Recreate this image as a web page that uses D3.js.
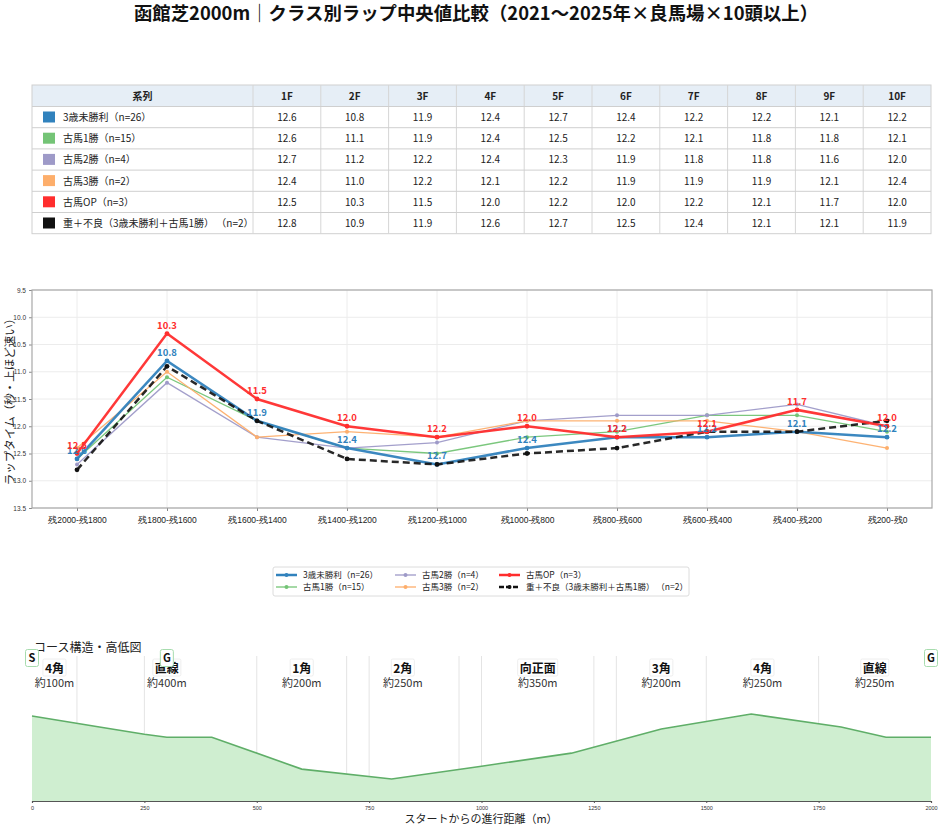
<!DOCTYPE html>
<html>
<head>
<meta charset="utf-8">
<script src="https://cdn.jsdelivr.net/npm/d3@7"></script>
<style>
  body { margin: 0; background: #fff; }
  svg { font-family: "Noto Sans CJK JP", "Noto Sans", sans-serif; }
</style>
</head>
<body>
<svg id="chart" width="942" height="829"></svg>
<script>
// ラップ区間（表の列と折れ線の横軸）
var furlongs = ["1F", "2F", "3F", "4F", "5F", "6F", "7F", "8F", "9F", "10F"];
var sections = ["残2000-残1800", "残1800-残1600", "残1600-残1400", "残1400-残1200", "残1200-残1000",
                "残1000-残800", "残800-残600", "残600-残400", "残400-残200", "残200-残0"];

// 系列名
var seriesNames = ["3歳未勝利（n=26）", "古馬1勝（n=15）", "古馬2勝（n=4）", "古馬3勝（n=2）",
                   "古馬OP（n=3）", "重＋不良（3歳未勝利＋古馬1勝） （n=2）"];

// 中央値ラップ
var maiden3 = [12.6, 10.8, 11.9, 12.4, 12.7, 12.4, 12.2, 12.2, 12.1, 12.2];
var win1    = [12.6, 11.1, 11.9, 12.4, 12.5, 12.2, 12.1, 11.8, 11.8, 12.1];
var win2    = [12.7, 11.2, 12.2, 12.4, 12.3, 11.9, 11.8, 11.8, 11.6, 12.0];
var win3    = [12.4, 11.0, 12.2, 12.1, 12.2, 11.9, 11.9, 11.9, 12.1, 12.4];
var openCls = [12.5, 10.3, 11.5, 12.0, 12.2, 12.0, 12.2, 12.1, 11.7, 12.0];
var heavy   = [12.8, 10.9, 11.9, 12.6, 12.7, 12.5, 12.4, 12.1, 12.1, 11.9];

var yTicks = [9.5, 10.0, 10.5, 11.0, 11.5, 12.0, 12.5, 13.0, 13.5];

// 高低図（距離m, 相対高低）
var profileDist = [0, 150, 250, 300, 400, 600, 800, 1000, 1200, 1400, 1600, 1800, 1900, 2000];
var profileElev = [2.93, 2.55, 2.3, 2.2, 2.2, 1.1, 0.76, 1.2, 1.65, 2.48, 3.0, 2.55, 2.2, 2.2];
var distTicks = [0, 250, 500, 750, 1000, 1250, 1500, 1750, 2000];

// コース区間
var segStart = [0, 100, 500, 700, 950, 1300, 1500, 1750];
var segEnd   = [100, 500, 700, 950, 1300, 1500, 1750, 2000];
var segName  = ["4角", "直線", "1角", "2角", "向正面", "3角", "4角", "直線"];
var segLen   = ["約100m", "約400m", "約200m", "約250m", "約350m", "約200m", "約250m", "約250m"];

// S/G 位置
var markDist  = [0, 300, 2000];
var markLabel = ["S", "G", "G"];

var allSeries = [maiden3, win1, win2, win3, openCls, heavy];
var colors = ["#3182bd", "#74c476", "#9e9ac8", "#fdae6b", "#ff2d2d", "#111111"];
var widths = [2.5, 1.3, 1.3, 1.3, 2.5, 2.5];

var svg = d3.select("#chart");

// タイトル
svg.append("text").attr("x", 476).attr("y", 20).attr("text-anchor", "middle")
  .attr("font-size", 18.4).attr("font-weight", "bold").attr("fill", "#111")
  .text("函館芝2000m｜クラス別ラップ中央値比較（2021～2025年×良馬場×10頭以上）");

// ---------- 表 ----------
var tableX = 32, tableY = 85, firstW = 221, colW = 67.8, headH = 21.5, rowH = 21.2;
var tbl = svg.append("g");
var tableW = firstW + colW * furlongs.length;
var tableH = headH + rowH * seriesNames.length;

tbl.append("rect").attr("x", tableX).attr("y", tableY).attr("width", tableW).attr("height", headH)
  .attr("fill", "#e6eef6");
tbl.append("rect").attr("x", tableX).attr("y", tableY).attr("width", tableW).attr("height", tableH)
  .attr("fill", "none").attr("stroke", "#d0d0d0");

var colX = function(i) { return tableX + firstW + colW * i; };

// 縦線
furlongs.forEach(function(f, i) {
  tbl.append("line").attr("x1", colX(i)).attr("x2", colX(i))
    .attr("y1", tableY).attr("y2", tableY + tableH).attr("stroke", "#d6d6d6");
});
// 横線
seriesNames.forEach(function(s, i) {
  var y = tableY + headH + rowH * i;
  tbl.append("line").attr("x1", tableX).attr("x2", tableX + tableW)
    .attr("y1", y).attr("y2", y).attr("stroke", "#cfcfcf");
});

tbl.append("text").attr("x", tableX + firstW / 2).attr("y", tableY + 14.5).attr("text-anchor", "middle")
  .attr("font-size", 10).attr("font-weight", "bold").attr("fill", "#222").text("系列");
furlongs.forEach(function(f, i) {
  tbl.append("text").attr("x", colX(i) + colW / 2).attr("y", tableY + 14.5).attr("text-anchor", "middle")
    .attr("font-size", 10).attr("font-weight", "bold").attr("fill", "#222").text(f);
});

seriesNames.forEach(function(name, r) {
  var y = tableY + headH + rowH * r;
  tbl.append("rect").attr("x", 43).attr("y", y + 5).attr("width", 12).attr("height", 11)
    .attr("fill", colors[r]);
  tbl.append("text").attr("x", 63).attr("y", y + 14.5).attr("font-size", 10).attr("fill", "#222").text(name);
  allSeries[r].forEach(function(v, i) {
    tbl.append("text").attr("x", colX(i) + colW / 2).attr("y", y + 14.5).attr("text-anchor", "middle")
      .attr("font-size", 10).attr("fill", "#222").text(v.toFixed(1));
  });
});

// ---------- 折れ線 ----------
var x = d3.scalePoint().domain(sections).range([32, 932]).padding(0.5);
var y = d3.scaleLinear().domain([9.5, 13.5]).range([290, 508]);

var plot = svg.append("g");
plot.append("g").selectAll("line").data(yTicks).join("line")
  .attr("x1", 32).attr("x2", 932).attr("y1", d => y(d)).attr("y2", d => y(d))
  .attr("stroke", "#ececec");
plot.append("g").selectAll("line").data(sections).join("line")
  .attr("x1", d => x(d)).attr("x2", d => x(d)).attr("y1", 290).attr("y2", 508)
  .attr("stroke", "#ececec");

var yAxis = plot.append("g").attr("transform", "translate(32,0)")
  .call(d3.axisLeft(y).tickValues(yTicks).tickFormat(d3.format(".1f")).tickSize(3));
yAxis.select(".domain").remove();
yAxis.selectAll("text").attr("font-size", 6.5).attr("fill", "#333");
yAxis.selectAll("line").attr("stroke", "#888");

var xAxis = plot.append("g").attr("transform", "translate(0,508)")
  .call(d3.axisBottom(x).tickSize(3));
xAxis.select(".domain").remove();
xAxis.selectAll("text").attr("font-size", 8.5).attr("fill", "#222").attr("dy", "1em");
xAxis.selectAll("line").attr("stroke", "#888");

plot.append("rect").attr("x", 32).attr("y", 290).attr("width", 900).attr("height", 218)
  .attr("fill", "none").attr("stroke", "#a8a8a8").attr("stroke-width", 1.2);

svg.append("text").attr("transform", "translate(14,399) rotate(-90)").attr("text-anchor", "middle")
  .attr("font-size", 11.5).attr("fill", "#222").text("ラップタイム（秒・上ほど速い）");

var line = d3.line().x((d, i) => x(sections[i])).y(d => y(d));
var drawOrder = [1, 2, 3, 0, 5, 4];
drawOrder.forEach(function(s) {
  plot.append("path").datum(allSeries[s]).attr("d", line).attr("fill", "none")
    .attr("stroke", colors[s]).attr("stroke-width", widths[s])
    .attr("stroke-dasharray", s === 5 ? "7,4" : null)
    .attr("stroke-opacity", s === 5 ? 0.9 : 0.95);
  plot.append("g").selectAll("circle").data(allSeries[s]).join("circle")
    .attr("cx", (d, i) => x(sections[i])).attr("cy", d => y(d))
    .attr("r", s === 0 || s === 4 || s === 5 ? 2.4 : 2).attr("fill", colors[s]);
});

// 値ラベル（3歳未勝利・古馬OP）
[0, 4].forEach(function(s) {
  plot.append("g").selectAll("text").data(allSeries[s]).join("text")
    .attr("x", (d, i) => x(sections[i])).attr("y", d => y(d) - 5)
    .attr("text-anchor", "middle").attr("font-size", 9.5).attr("font-weight", "bold")
    .attr("fill", colors[s]).text(d => d.toFixed(1));
});

// 凡例
var lg = svg.append("g");
lg.append("rect").attr("x", 273).attr("y", 567).attr("width", 416).attr("height", 29)
  .attr("rx", 2).attr("fill", "#fff").attr("stroke", "#dcdcdc");
var legX = [276, 395, 499];
var legY = [575, 587];
seriesNames.forEach(function(name, i) {
  var cx = legX[Math.floor(i / 2)], cy = legY[i % 2];
  lg.append("line").attr("x1", cx).attr("x2", cx + 21).attr("y1", cy).attr("y2", cy)
    .attr("stroke", colors[i]).attr("stroke-width", widths[i])
    .attr("stroke-dasharray", i === 5 ? "5,2" : null);
  lg.append("circle").attr("cx", cx + 10.5).attr("cy", cy).attr("r", 2).attr("fill", colors[i]);
  lg.append("text").attr("x", cx + 27).attr("y", cy + 3).attr("font-size", 8.5).attr("fill", "#222").text(name);
});

// ---------- 高低図 ----------
var px = d3.scaleLinear().domain([0, 2000]).range([32, 931]);
var py = d3.scaleLinear().domain([0, 5]).range([801, 656]);

svg.append("text").attr("x", 34).attr("y", 652).attr("font-size", 12).attr("fill", "#222").text("コース構造・高低図");

var prof = svg.append("g");
var guide = Array.from(new Set(segStart.slice(1).concat(distTicks.slice(1, -1))));
prof.selectAll("line.guide").data(guide).join("line")
  .attr("x1", d => px(d)).attr("x2", d => px(d)).attr("y1", 656).attr("y2", 801)
  .attr("stroke", "#e4e4e4");

var pts = profileDist.map((d, i) => [d, profileElev[i]]);
prof.append("path").datum(pts)
  .attr("d", d3.area().x(d => px(d[0])).y0(py(0)).y1(d => py(d[1])))
  .attr("fill", "#cfeed0");
prof.append("path").datum(pts)
  .attr("d", d3.line().x(d => px(d[0])).y(d => py(d[1])))
  .attr("fill", "none").attr("stroke", "#5fae68").attr("stroke-width", 1.6);

var pAxis = prof.append("g").attr("transform", "translate(0,801)")
  .call(d3.axisBottom(px).tickValues(distTicks).tickSize(2).tickFormat(d3.format("d")));
pAxis.select(".domain").attr("stroke", "#555").attr("stroke-width", 1.2);
pAxis.selectAll("text").attr("font-size", 5.5).attr("fill", "#333");
pAxis.selectAll("line").attr("stroke", "#555");

svg.append("text").attr("x", 481).attr("y", 823).attr("text-anchor", "middle")
  .attr("font-size", 11).attr("fill", "#222").text("スタートからの進行距離（m）");

var labelBoxes = prof.append("g");
var labelTexts = prof.append("g");
segName.forEach(function(n, i) {
  var cx = px((segStart[i] + segEnd[i]) / 2);
  var t = labelTexts.append("text").attr("x", cx).attr("y", 673).attr("text-anchor", "middle")
    .attr("font-size", 12).attr("font-weight", "bold").attr("fill", "#111").text(n);
  var bb = t.node().getBBox();
  labelBoxes.append("rect").attr("x", bb.x - 2).attr("y", bb.y)
    .attr("width", bb.width + 4).attr("height", bb.height).attr("fill", "#fff")
    .attr("stroke", "#eeeeee").attr("rx", 1.5);
  labelTexts.append("text").attr("x", cx).attr("y", 687).attr("text-anchor", "middle")
    .attr("font-size", 11).attr("fill", "#333").text(segLen[i]);
});

var marks = prof.append("g");
markDist.forEach(function(d, i) {
  var cx = px(d), cy = 658;
  marks.append("rect").attr("x", cx - 6.5).attr("y", cy - 8.5).attr("width", 13).attr("height", 17)
    .attr("rx", 2).attr("fill", "#fff").attr("stroke", "#a7dcae");
  marks.append("text").attr("x", cx).attr("y", cy + 4).attr("text-anchor", "middle")
    .attr("font-size", 11).attr("font-weight", "bold").attr("fill", "#111").text(markLabel[i]);
});
</script>
</body>
</html>
